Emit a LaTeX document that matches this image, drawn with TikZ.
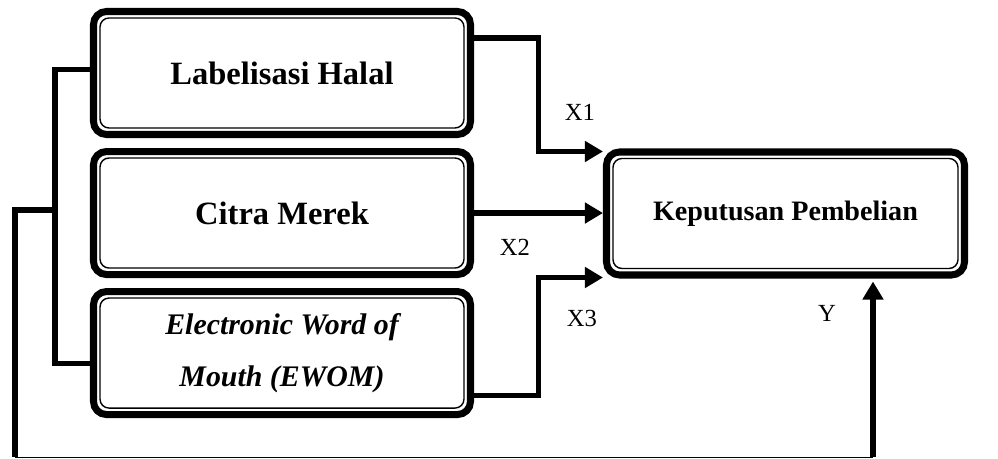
\documentclass[tikz,border=0pt]{standalone}
\usepackage{fontspec}
\setmainfont{Liberation Serif}
\usetikzlibrary{calc}
\usetikzlibrary{positioning}
\usetikzlibrary{arrows.meta}

\begin{document}
\begin{tikzpicture}
\tikzstyle{every node}=[font=\fontsize{14}{17}\selectfont]
\tikzstyle{varbox}=[draw,line width=4pt,rounded corners=0.26cm,minimum width=7.54cm,minimum height=2.46cm,align=center,font=\fontsize{18.5}{30}\selectfont\bfseries]
\tikzstyle{inner}=[line width=0.8pt,rounded corners=0.18cm]
\tikzstyle{link}=[line width=2.9pt]
\tikzstyle{conn}=[line width=2.9pt,->,>={Triangle[length=0.36cm,width=0.4cm]}]
\useasboundingbox (0,0) rectangle (19.96,9.18);

% Variabel X
\node[varbox] (lab) at (5.64,7.72) {Labelisasi Halal};
\node[varbox,below=0.2cm of lab] (cit) {Citra Merek};
\node[varbox,below=0.2cm of cit,font=\fontsize{17}{30}\selectfont\bfseries\itshape] (ewom) {Electronic Word of\\\itshape Mouth (EWOM)};
% Variabel Y
\node[varbox,minimum width=7.16cm,font=\fontsize{16}{20}\selectfont\bfseries] (kep) at (15.71,4.91) {Keputusan Pembelian};

% Garis dalam
\foreach \n in {lab,cit,ewom,kep}
  \draw[inner] ($(\n.south west)+(0.2,0.2)$) rectangle ($(\n.north east)-(0.2,0.2)$);

% Panah X1, X2, X3
\coordinate (mid) at ($(lab.east)!0.5!(kep.west)$);
\coordinate (t1) at ($(kep.north west)+(0,-0.06)$);
\coordinate (t3) at ($(kep.south west)+(0,0.02)$);
\draw[conn] ([yshift=0.7cm]lab.east) -| (t1 -| mid) -- (t1);
\draw[conn] (cit.east) -- (cit.east -| kep.west);
\draw[conn] ([yshift=-0.85cm]ewom.east) -| (t3 -| mid) -- (t3);

% Garis kiri
\coordinate (jl) at (1.1,4.98);
\coordinate (jo) at (0.3,0.03);
\draw[link] ([yshift=0.07cm]lab.west) -| (jl) |- ([yshift=-0.21cm]ewom.west);
\draw[link] (jl) -| (jo);

% Panah Y
\coordinate (jy) at ([shift={(1.75,-0.06)}]kep.south);
\draw[line width=0.8pt] (jo) -- (jo -| jy);
\draw[conn] (jo -| jy) -- (jy);

% Label
\node (x1) at (11.6,6.94) {X1};
\node (x2) at (10.3,4.24) {X2};
\node (x3) at (11.64,2.82) {X3};
\node (y) at (16.54,2.92) {Y};
\end{tikzpicture}
\end{document}
